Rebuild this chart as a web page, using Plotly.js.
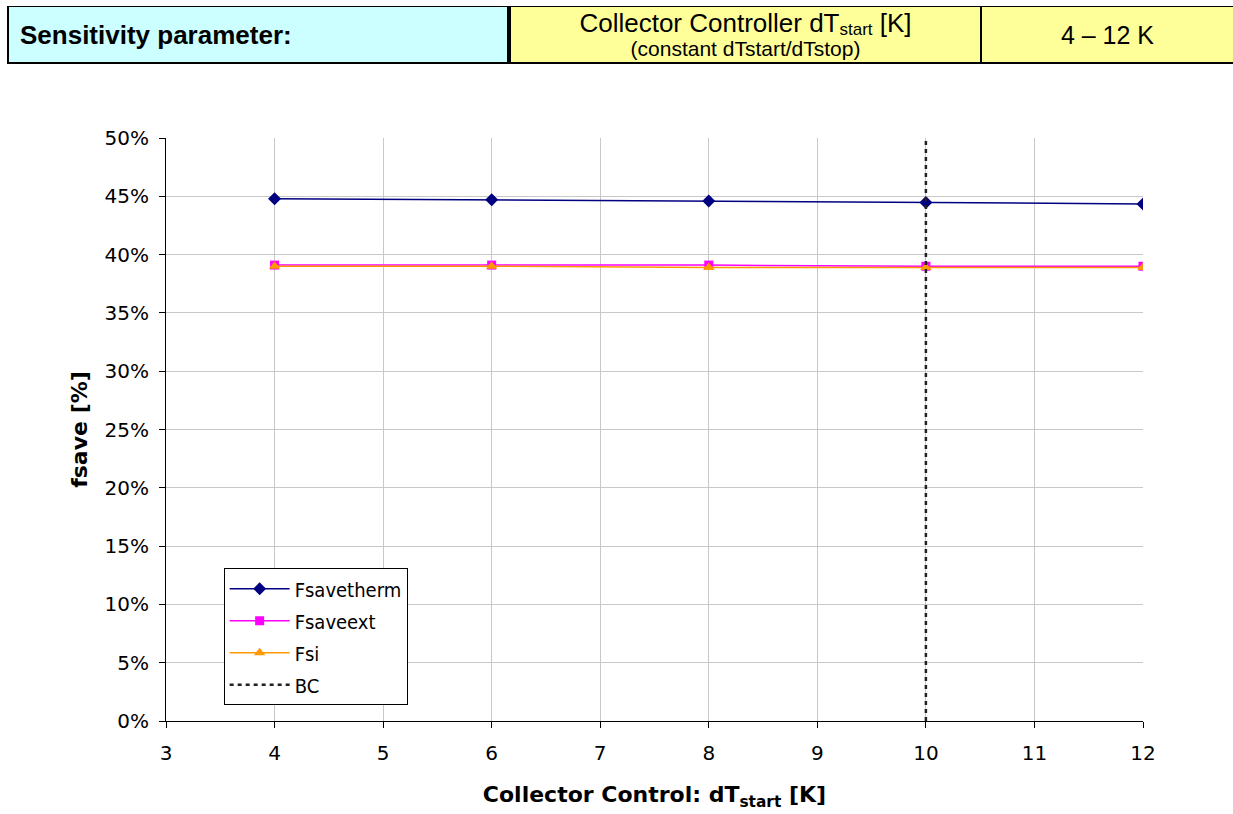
<!DOCTYPE html>
<html>
<head>
<meta charset="utf-8">
<script src="https://cdn.plot.ly/plotly-3.0.1.min.js"></script>
<style>
  html, body { margin:0; padding:0; background:#fff; }
  #wrap { position:relative; width:1233px; height:814px; overflow:hidden; }
  #chart { position:absolute; left:0; top:0; width:1233px; height:814px; }
  #hdr { position:absolute; left:7px; top:6px; width:1226px; height:58px; background:#000; font-family:"Liberation Sans", Arial, sans-serif; color:#000; z-index:2; }
  .cell { position:absolute; top:1px; height:55px; display:flex; flex-direction:column; justify-content:center; }
  #c1 { left:2px; width:498px; background:#ccffff; font-weight:bold; font-size:26px; padding-left:11px; padding-top:2px; box-sizing:border-box; }
  #c2 { left:504px; width:469px; background:#ffff99; align-items:center; text-align:center; padding-top:1px; box-sizing:border-box; }
  #c3 { left:975px; width:251px; background:#ffff99; align-items:center; font-size:25px; padding-top:2px; box-sizing:border-box; }
  .l1 { font-size:26px; line-height:26px; }
  .l2 { font-size:21px; line-height:22px; margin-top:2px; }
  sub { font-size:17px; vertical-align:-3px; line-height:0; }
</style>
</head>
<body>
<div id="wrap">
  <div id="chart"></div>
  <div id="hdr">
    <div class="cell" id="c1">Sensitivity parameter:</div>
    <div class="cell" id="c2"><div class="l1">Collector Controller dT<sub>start</sub> [K]</div><div class="l2">(constant dTstart/dTstop)</div></div>
    <div class="cell" id="c3">4 – 12 K</div>
  </div>
</div>
<script>
// Data
const dTstart = [4, 6, 8, 10, 12];
const fsavetherm = [0.448, 0.447, 0.446, 0.4447, 0.4435];
const fsaveext = [0.391, 0.391, 0.391, 0.390, 0.390];
const fsi = [0.390, 0.390, 0.389, 0.389, 0.389];
const bcX = [10, 10];
const bcY = [0, 0.5];
const xTickVals = [3, 4, 5, 6, 7, 8, 9, 10, 11, 12];

const legendFont = {family: "DejaVu Sans Condensed, DejaVu Sans, sans-serif", size: 20, color: "#000"};

const traces = [
  {x: dTstart, y: fsavetherm, name: "Fsavetherm", mode: "lines+markers",
   line: {color: "#000080", width: 1.5}, marker: {symbol: "diamond", size: 10, color: "#000080"},
   legendgroup: "a"},
  {x: dTstart, y: fsaveext, name: "Fsaveext", mode: "lines+markers",
   line: {color: "#ff00ff", width: 1.5}, marker: {symbol: "square", size: 9, color: "#ff00ff"},
   legendgroup: "b"},
  {x: dTstart, y: fsi, name: "Fsi", mode: "lines+markers",
   line: {color: "#ff9900", width: 1.5}, marker: {symbol: "triangle-up", size: 10, color: "#ff9900"},
   legendgroup: "c"},
  {x: bcX, y: bcY, name: "BC", mode: "lines",
   line: {color: "#222", width: 2.5, dash: "4px,4px"}, legendgroup: "d"}
];

const tickFont = {family: "DejaVu Sans, Verdana, sans-serif", size: 20, color: "#000"};
const titleFont = {family: "DejaVu Sans, Verdana, sans-serif", size: 22, color: "#000"};

const layout = {
  width: 1233, height: 814,
  margin: {l: 166, r: 90, t: 138, b: 93},
  paper_bgcolor: "#fff", plot_bgcolor: "#fff",
  showlegend: true,
  legend: {x: 0.059, y: 0.262, xanchor: "left", yanchor: "top",
           bgcolor: "#fff", bordercolor: "#000", borderwidth: 1,
           font: legendFont, traceorder: "grouped", tracegroupgap: 3, itemwidth: 60},
  xaxis: {range: [3, 12], tickvals: xTickVals, ticktext: xTickVals.map(String),
          showgrid: true, gridcolor: "#c8c8c8", gridwidth: 1,
          showline: true, linecolor: "#000", linewidth: 1,
          ticks: "outside", ticklen: 6, tickcolor: "#000", ticklabelstandoff: 8,
          tickfont: tickFont, zeroline: false,
          title: {text: "<b>Collector Control: dT<sub>start</sub> [K]</b>", standoff: 22, font: titleFont}},
  yaxis: {range: [0, 0.5], dtick: 0.05, tickformat: ".0%",
          showgrid: true, gridcolor: "#c8c8c8", gridwidth: 1,
          showline: true, linecolor: "#000", linewidth: 1,
          ticks: "outside", ticklen: 6, tickcolor: "#000", ticklabelstandoff: 6,
          tickfont: tickFont, zeroline: false,
          title: {text: "<b>fsave [%]</b>", standoff: 10, font: titleFont}}
};

Plotly.newPlot("chart", traces, layout, {displayModeBar: false, staticPlot: true});
</script>
</body>
</html>
